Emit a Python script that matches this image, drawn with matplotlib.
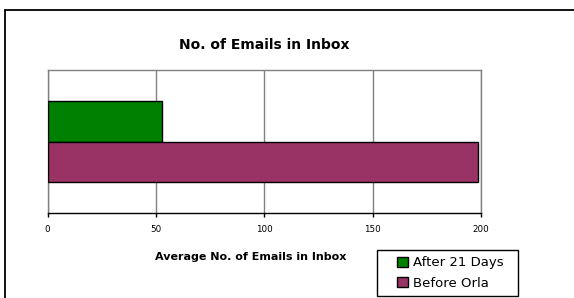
import matplotlib.pyplot as plt
from matplotlib.patches import Rectangle

# data
series = ["After 21 Days", "Before Orla"]
values = [52.8, 198.8]
colors = ["#008000", "#993366"]
xticks = [0, 50, 100, 150, 200]

W, H = 574, 298
fig = plt.figure(figsize=(W / 100, H / 100), dpi=100)
fig.patch.set_facecolor("white")

# outer chart border (runs off the right and bottom edges)
fig.patches.append(Rectangle((5 / W, -0.2), 1.2, 1.2 - 10 / H,
                             transform=fig.transFigure, fill=False,
                             edgecolor="black", linewidth=1.3, zorder=0))

ax = fig.add_axes([47.5 / W, 1 - 213 / H, (481 - 47.5) / W, (213 - 70) / H])

h = 0.285
ypos = [h / 2, -h / 2]
for v, y, c, name in zip(values, ypos, colors, series):
    ax.barh(y, v, height=h, color=c, edgecolor="black", linewidth=1.0,
            label=name, zorder=3)

ax.set_xlim(0, 200)
ax.set_ylim(-0.5, 0.5)
ax.set_xticks(xticks)
ax.set_xticklabels([str(t) for t in xticks], fontsize=6.3)
ax.set_yticks([])
ax.grid(axis="x", color="#808080", linewidth=1.0, zorder=1)

for s in ["top", "right", "left"]:
    ax.spines[s].set_color("#808080")
    ax.spines[s].set_linewidth(1.0)
ax.spines["bottom"].set_color("black")
ax.spines["bottom"].set_linewidth(1.0)
ax.tick_params(axis="x", direction="out", length=3, width=1.0, pad=6)

ax.set_title("No. of Emails in Inbox", fontsize=10, fontweight="bold", pad=15)
ax.set_xlabel("Average No. of Emails in Inbox", fontsize=8, fontweight="bold",
              va="center")
ax.xaxis.set_label_coords((251 - 47.5) / 433.5, (213 - 257) / 143)

# legend: box drawn by hand to get the wide left padding of the original
fig.patches.append(Rectangle((377 / W, 1 - 296 / H), (518 - 377) / W, 46 / H,
                             transform=fig.transFigure, facecolor="white",
                             edgecolor="black", linewidth=1.0, zorder=5))
leg = fig.legend(loc="center left", bbox_to_anchor=(397 / W, 1 - 273 / H),
                 frameon=False, fontsize=9.5, handlelength=0.8,
                 handleheight=0.8, handletextpad=0.4, borderpad=0.0,
                 labelspacing=0.55, borderaxespad=0)
leg.set_zorder(6)

fig.savefig("out.png", dpi=100)
